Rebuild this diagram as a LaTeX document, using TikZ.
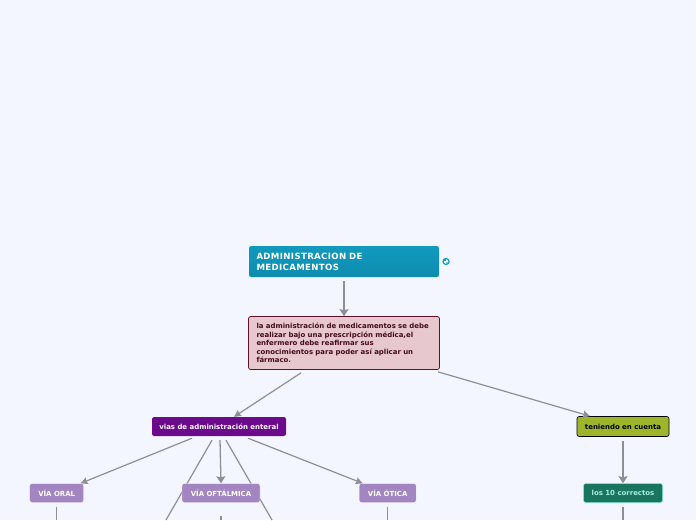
\documentclass[tikz,border=0pt]{standalone}
\usepackage{fontspec}
\setmainfont{DejaVu Sans}
\usetikzlibrary{arrows.meta, positioning}
\definecolor{pagebg}{HTML}{F4F6FF}
\definecolor{linkgray}{HTML}{8E8E96}
\definecolor{titleblue}{HTML}{1199BE}
\definecolor{titledark}{HTML}{0E8DAE}
\definecolor{notepink}{HTML}{E6C8CE}
\definecolor{notedark}{HTML}{5E0F2A}
\definecolor{enteralpurple}{HTML}{6B0A8A}
\definecolor{viapurple}{HTML}{A385C2}
\definecolor{cuentagreen}{HTML}{9DB52A}
\definecolor{correctgreen}{HTML}{1A7560}
\definecolor{correctrim}{HTML}{7FE8D2}
\begin{document}
\begin{tikzpicture}[
    x=1pt, y=-1pt,
    box/.style={rectangle, rounded corners=2.2pt, font=\bfseries\fontsize{6.95}{8}\selectfont, align=left, inner sep=0pt},
    via/.style={box, fill=viapurple, draw=white, line width=0.4pt, text=white, align=center, minimum height=19pt},
    arrow/.style={-{Stealth[length=7pt,width=9pt,inset=1pt]}, linkgray, line width=1.3pt},
    thinarrow/.style={-{Stealth[length=7pt,width=7pt,inset=1pt]}, linkgray, line width=1.2pt},
    link/.style={linkgray, line width=1.2pt}
]
\useasboundingbox (0,0) rectangle (696,520);
\fill[pagebg] (0,0) rectangle (696,520);

\node[box, top color=titleblue, bottom color=titledark, text=white, text width=175pt, minimum width=190pt, minimum height=31pt, font=\bfseries\fontsize{8.6}{11}\addfontfeature{LetterSpace=4}\selectfont] (title) at (344,261.5) {ADMINISTRACION DE\\MEDICAMENTOS};
\node[box, fill=notepink, draw=notedark, line width=0.7pt, text=notedark!70!black, text width=175pt, minimum width=191pt, minimum height=53pt, font=\bfseries\fontsize{6.95}{8.5}\selectfont] (note) at (344,343) {la administración de medicamentos se debe\\realizar bajo una prescripción médica,el\\enfermero debe reafirmar sus\\conocimientos para poder así aplicar un\\fármaco.};
\node[box, fill=enteralpurple, text=white, align=center, minimum width=134pt, minimum height=19pt] (enteral) at (219,426.5) {vias de administración enteral};
\node[box, fill=cuentagreen, draw=black, line width=0.7pt, text=black, align=center, minimum width=92pt, minimum height=20pt] (cuenta) at (623,426.5) {teniendo en cuenta};

\coordinate (oftleft) at (166,520);
\coordinate (oftright) at (272,520);
\coordinate (oraldown) at (56.7,520);
\coordinate (oftdown) at (221,520);
\coordinate (oticadown) at (387.7,520);
\coordinate (correctosdown) at (623,520);

% pasan por debajo de la caja
\draw[link] ([xshift=-7pt,yshift=-4pt]enteral.south) -- (oftleft);
\draw[link] ([xshift=7pt,yshift=-4pt]enteral.south) -- (oftright);

\node[via, minimum width=54pt] (oral) at (56.7,493) {VÍA ORAL};
\node[via, minimum width=78pt] (oftalmica) at (221,493) {VÍA OFTÁLMICA};
\node[via, minimum width=57pt] (otica) at (387.7,493) {VÍA ÓTICA};
\node[box, fill=correctgreen, draw=correctrim, line width=0.5pt, text=correctrim!70!white, align=center, minimum width=79pt, minimum height=19pt] (correctos) at (623,493) {los 10 correctos};

\node[circle, draw=titleblue, fill=white, line width=1.2pt, inner sep=0pt, minimum size=6pt] (globe) at (446,261.5) {};
\fill[titleblue] (445,260) circle (1.3pt);
\fill[titleblue] (447,263) circle (0.9pt);

% enlaces
\draw[arrow] ([yshift=-4pt]title.south) -- (note.north);
\draw[thinarrow] ([xshift=-43pt,yshift=-3pt]note.south) -- ([xshift=15pt]enteral.north);
\draw[thinarrow] ([xshift=94pt,yshift=-2pt]note.south) -- ([xshift=-33pt]cuenta.north);
\draw[thinarrow] ([xshift=-27pt,yshift=-2pt]enteral.south) -- ([xshift=24pt]oral.north);
\draw[arrow] ([xshift=1pt,yshift=-4pt]enteral.south) -- (oftalmica.north);
\draw[thinarrow] ([xshift=29pt,yshift=-2pt]enteral.south) -- ([xshift=-25pt]otica.north);
\draw[arrow] ([yshift=-4pt]cuenta.south) -- (correctos.north);
\draw[link] ([yshift=-4pt]oral.south) -- (oraldown);
\draw[link] ([yshift=-13pt]oftalmica.south) -- (oftdown);
\draw[link] ([yshift=-4pt]otica.south) -- (oticadown);
\draw[link] ([yshift=-4pt]correctos.south) -- (correctosdown);
\end{tikzpicture}
\end{document}
